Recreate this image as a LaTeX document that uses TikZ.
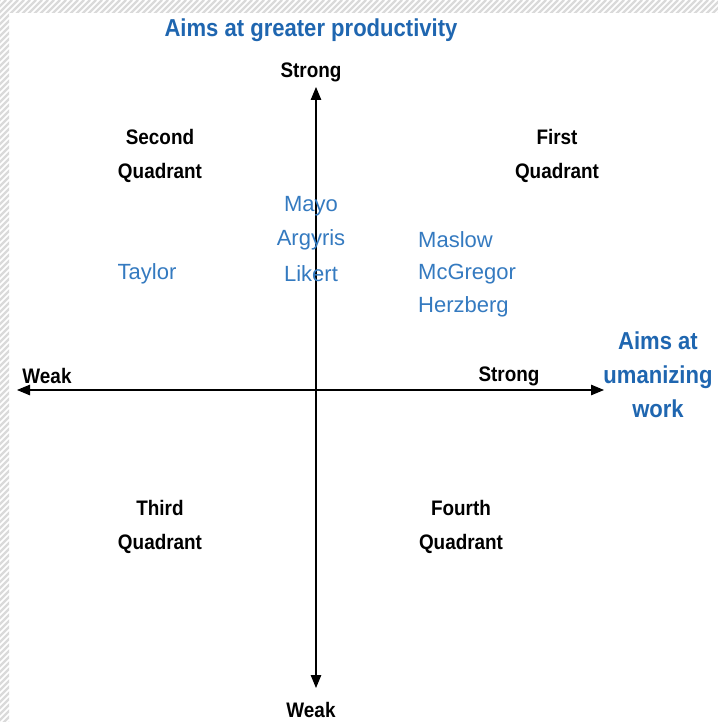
\documentclass[tikz,border=0pt]{standalone}
\usepackage{fontspec}
\setmainfont{Liberation Sans}
\newfontfamily\condfont[FakeStretch=0.9]{Liberation Sans}
\usetikzlibrary{arrows.meta}
\definecolor{titleblue}{RGB}{31,102,176}
\definecolor{nameblue}{RGB}{52,122,192}
\definecolor{hatchgrey}{RGB}{218,218,218}
\begin{document}
\begin{tikzpicture}[x=1pt,y=-1pt,
  axis/.style={line width=1.1pt,-{Triangle[length=13pt,width=10.5pt]}},
  caption/.style={font=\condfont\fontsize{24.5}{34}\selectfont\bfseries,text=titleblue,align=center,inner sep=0pt},
  axlabel/.style={font=\condfont\fontsize{21}{34}\selectfont\bfseries,text=black,inner sep=0pt},
  quadlabel/.style={font=\condfont\fontsize{21}{34}\selectfont\bfseries,text=black,align=center,inner sep=0pt},
  person/.style={font=\fontsize{22}{33.7}\selectfont,text=nameblue,inner sep=0pt}]
\useasboundingbox (0,0) rectangle (718,722);
\fill[white] (0,0) rectangle (718,722);
% hatched frame along the top and left edges
\begin{scope}
  \clip (0,0) rectangle (718,13) (0,0) rectangle (9,722);
  \foreach \k in {-740,-734,...,740}
    \draw[hatchgrey,line width=2.2pt] (\k,740) -- (\k+740,0);
\end{scope}
% axes
\coordinate (xl) at (17,390);
\coordinate (xr) at (604,390);
\coordinate (yt) at (316,87);
\coordinate (yb) at (316,688);
\coordinate (o) at (316,390);
\draw[axis] (o) -- (xl);
\draw[axis] (o) -- (xr);
\draw[axis] (o) -- (yt);
\draw[axis] (o) -- (yb);
% titles of the axes
\node[caption] (ytitle) at (311,30) {Aims at greater productivity};
\node[caption] (xtitle) at (658,375) {Aims at\\umanizing\\work};
% axis end labels
\node[axlabel] (ystrong) at (311,72) {Strong};
\node[axlabel] (yweak) at (311,710) {Weak};
\node[axlabel] (xweak) at (47,376) {Weak};
\node[axlabel] (xstrong) at (509,376) {Strong};
% quadrants
\node[quadlabel] (q2) at (160,156) {Second\\Quadrant};
\node[quadlabel] (q1) at (557,156) {First\\Quadrant};
\node[quadlabel] (q3) at (160,527) {Third\\Quadrant};
\node[quadlabel] (q4) at (461,527) {Fourth\\Quadrant};
% authors
\node[person] (taylor) at (147,274) {Taylor};
\node[person] (mayo) at (311,206) {Mayo};
\node[person] (argyris) at (311,240) {Argyris};
\node[person] (likert) at (311,274) {Likert};
\node[person,anchor=west] (maslow) at (418,240) {Maslow};
\node[person,anchor=west] (mcgregor) at (418,274) {McGregor};
\node[person,anchor=west] (herzberg) at (418,307) {Herzberg};
\end{tikzpicture}
\end{document}
